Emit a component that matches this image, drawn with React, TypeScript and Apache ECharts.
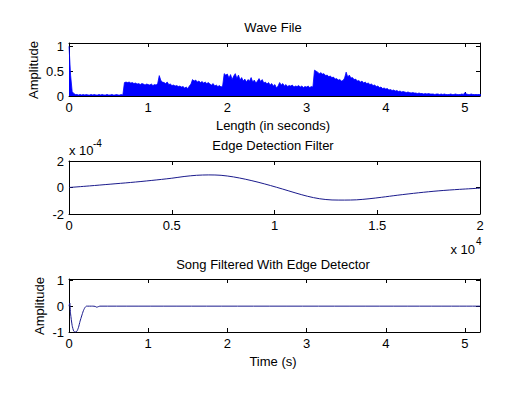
import React, { useEffect, useRef } from 'react';
import * as echarts from 'echarts';

// ---------- data ----------
// Wave file |amplitude| envelope, sampled every waveStep seconds from t = 0
const waveStep = 0.02;
const waveAmp = [
  1.0, 0.42, 0.09, 0.05, 0.03, 0.03, 0.02, 0.03, 0.02, 0.03,
  0.02, 0.03, 0.02, 0.02, 0.03, 0.02, 0.03, 0.02, 0.02, 0.03,
  0.02, 0.03, 0.02, 0.02, 0.03, 0.02, 0.02, 0.03, 0.02, 0.02,
  0.03, 0.02, 0.02, 0.03, 0.02, 0.27, 0.28, 0.27, 0.28, 0.26,
  0.27, 0.25, 0.26, 0.24, 0.25, 0.23, 0.25, 0.24, 0.22, 0.24,
  0.23, 0.22, 0.24, 0.21, 0.23, 0.22, 0.25, 0.41, 0.31, 0.28,
  0.27, 0.25, 0.28, 0.23, 0.24, 0.21, 0.22, 0.2, 0.21, 0.19,
  0.2, 0.18, 0.19, 0.16, 0.18, 0.15, 0.2, 0.24, 0.33, 0.3,
  0.32, 0.28, 0.3, 0.27, 0.29, 0.26, 0.28, 0.25, 0.27, 0.24,
  0.22, 0.25, 0.2, 0.22, 0.19, 0.21, 0.18, 0.2, 0.45, 0.42,
  0.44, 0.36, 0.43, 0.33, 0.4, 0.45, 0.35, 0.42, 0.32, 0.37,
  0.3, 0.34, 0.28, 0.33, 0.3, 0.37, 0.28, 0.32, 0.26, 0.3,
  0.35, 0.29, 0.33, 0.26, 0.28, 0.24, 0.27, 0.22, 0.25, 0.2,
  0.23, 0.16, 0.2, 0.27, 0.22, 0.25, 0.2, 0.23, 0.19, 0.21,
  0.2, 0.22, 0.18, 0.2, 0.19, 0.21, 0.18, 0.2, 0.17, 0.19,
  0.18, 0.2, 0.17, 0.19, 0.18, 0.52, 0.5, 0.48, 0.45, 0.47,
  0.44, 0.45, 0.41, 0.42, 0.39, 0.4, 0.37, 0.38, 0.34, 0.35,
  0.32, 0.33, 0.3, 0.31, 0.36, 0.48, 0.38, 0.42, 0.36, 0.37,
  0.33, 0.34, 0.3, 0.31, 0.28, 0.3, 0.26, 0.28, 0.25, 0.26,
  0.23, 0.24, 0.21, 0.22, 0.19, 0.2, 0.17, 0.18, 0.15, 0.16,
  0.14, 0.15, 0.12, 0.13, 0.11, 0.12, 0.1, 0.11, 0.09, 0.1,
  0.08, 0.09, 0.08, 0.07, 0.08, 0.07, 0.06, 0.07, 0.06, 0.06,
  0.05, 0.06, 0.05, 0.05, 0.04, 0.05, 0.04, 0.05, 0.04, 0.04,
  0.04, 0.03, 0.04, 0.04, 0.03, 0.04, 0.03, 0.04, 0.03, 0.03,
  0.03, 0.04, 0.03, 0.03, 0.04, 0.03, 0.03, 0.03, 0.04, 0.03,
  0.07, 0.04, 0.03, 0.03, 0.04, 0.03, 0.03, 0.03, 0.03, 0.03,
  0.03,
];

// Edge detection filter (x in samples, y in units of 1e-4)
const filterSamples = [
  0, 1000, 2000, 3000, 4000, 5000, 5600, 6200, 6800, 7400, 8000, 8600, 9200, 9800,
  10400, 11000, 11600, 12200, 12800, 13400, 14000, 14600, 15200, 16000, 17000, 18000, 19000, 20000,
];
const filterAmpE4 = [
  0, 0.12, 0.25, 0.38, 0.53, 0.7, 0.83, 0.92, 0.95, 0.92, 0.8, 0.62, 0.4, 0.15,
  -0.12, -0.4, -0.66, -0.85, -0.94, -0.95, -0.93, -0.85, -0.74, -0.58, -0.4, -0.25, -0.14, -0.05,
];

// Song filtered with edge detector
const filteredTime = [
  0, 0.01, 0.02, 0.04, 0.06, 0.08, 0.1, 0.12, 0.14, 0.16, 0.18, 0.2, 0.22, 0.3, 0.33, 0.35, 0.37, 0.39, 5.19,
];
const filteredAmp = [
  0, 0.12, -0.3, -0.75, -0.97, -1.0, -0.97, -0.82, -0.58, -0.38, -0.19, -0.06, 0, 0, -0.01, -0.04, -0.02, 0, 0,
];

// axis ranges / ticks
const waveX = { min: 0, max: 5.19, interval: 1 };
const waveY = { min: 0, max: 1.066, interval: 0.5 };
const filtX = { min: 0, max: 20000, interval: 5000 };
const filtY = { min: -2, max: 2, interval: 2 };
const songX = { min: 0, max: 5.19, interval: 1 };
const songY = { min: -1, max: 1.05, interval: 1 };

const FONT = 'Liberation Sans, Arial, Helvetica, sans-serif';

function isTick(v: number, interval: number) {
  const r = v / interval;
  return Math.abs(r - Math.round(r)) < 1e-6;
}

function fmt(v: number) {
  const s = parseFloat(v.toFixed(4)).toString();
  return s;
}

export default function App() {
  const ref = useRef<HTMLDivElement>(null);

  useEffect(() => {
    if (!ref.current) return;
    const chart = echarts.init(ref.current, undefined, { renderer: 'svg' });

    const grids = [
      { left: 69, right: 51, top: 43, height: 53 },
      { left: 69, right: 51, top: 161, height: 53 },
      { left: 69, right: 51, top: 279, height: 53 },
    ];

    const axisLine = { show: true, onZero: false, lineStyle: { color: '#000', width: 1 } };
    const tick = { show: true, inside: true, length: 4, lineStyle: { color: '#000', width: 1 } };
    const labelStyle = { color: '#000', fontSize: 13, fontFamily: FONT };

    const mkX = (gi: number, r: any, scale: number) => [
      {
        type: 'value', gridIndex: gi, position: 'bottom', ...r,
        axisLine, axisTick: tick, splitLine: { show: false },
        axisLabel: {
          ...labelStyle, margin: 5, showMinLabel: true, showMaxLabel: true,
          formatter: (v: number) => (isTick(v, r.interval) ? fmt(v / scale) : ''),
        },
      },
      {
        type: 'value', gridIndex: gi, position: 'top', ...r,
        axisLine, axisTick: tick, splitLine: { show: false }, axisLabel: { show: false },
      },
    ];
    const mkY = (gi: number, r: any) => [
      {
        type: 'value', gridIndex: gi, position: 'left', ...r,
        axisLine, axisTick: tick, splitLine: { show: false },
        axisLabel: {
          ...labelStyle, margin: 5,
          formatter: (v: number) => (isTick(v, r.interval) ? fmt(v) : ''),
        },
      },
      {
        type: 'value', gridIndex: gi, position: 'right', ...r,
        axisLine, axisTick: tick, splitLine: { show: false }, axisLabel: { show: false },
      },
    ];

    const waveData = waveAmp.map((a, i) => [parseFloat((i * waveStep).toFixed(3)), a]);
    const filtData = filterSamples.map((s, i) => [s, filterAmpE4[i]]);
    const songData = filteredTime.map((t, i) => [t, filteredAmp[i]]);

    const txt = (text: string, x: number, y: number, extra: any = {}) => ({
      type: 'text', x, y, silent: true, ...extra,
      style: {
        text, fill: '#000', font: `${extra.size || 13}px ${FONT}`,
        align: extra.align || 'center', verticalAlign: 'middle',
      },
    });

    chart.setOption({
      animation: false,
      backgroundColor: '#fff',
      grid: grids,
      xAxis: [...mkX(0, waveX, 1), ...mkX(1, filtX, 10000), ...mkX(2, songX, 1)],
      yAxis: [...mkY(0, waveY), ...mkY(1, filtY), ...mkY(2, songY)],
      series: [
        {
          type: 'line', xAxisIndex: 0, yAxisIndex: 0, data: waveData,
          showSymbol: false, symbol: 'none',
          lineStyle: { color: '#0000ff', width: 0.8 },
          areaStyle: { color: '#0000ff', opacity: 1, origin: 'start' },
        },
        {
          type: 'line', xAxisIndex: 2, yAxisIndex: 2, data: filtData,
          showSymbol: false, symbol: 'none', smooth: 0.3,
          lineStyle: { color: '#1a1a8c', width: 1 },
        },
        {
          type: 'line', xAxisIndex: 4, yAxisIndex: 4, data: songData,
          showSymbol: false, symbol: 'none', smooth: 0.2,
          lineStyle: { color: '#1a1a8c', width: 1 },
        },
      ],
      graphic: [
        txt('Wave File', 273, 27),
        txt('Length (in seconds)', 273, 125.5),
        txt('Amplitude', 33, 70, { rotation: Math.PI / 2 }),
        txt('Edge Detection Filter', 273, 145),
        txt('x 10', 69, 150, { align: 'left' }),
        txt('-4', 93, 143, { align: 'left', size: 10 }),
        txt('x 10', 475, 249, { align: 'right' }),
        txt('4', 476, 241, { align: 'left', size: 10 }),
        txt('Song Filtered With Edge Detector', 273, 264),
        txt('Time (s)', 273, 361),
        txt('Amplitude', 39.5, 306, { rotation: Math.PI / 2 }),
      ],
    });

    return () => chart.dispose();
  }, []);

  return (
    <div
      ref={ref}
      style={{ position: 'fixed', left: 0, top: 0, width: 531, height: 394, background: '#fff' }}
    />
  );
}
